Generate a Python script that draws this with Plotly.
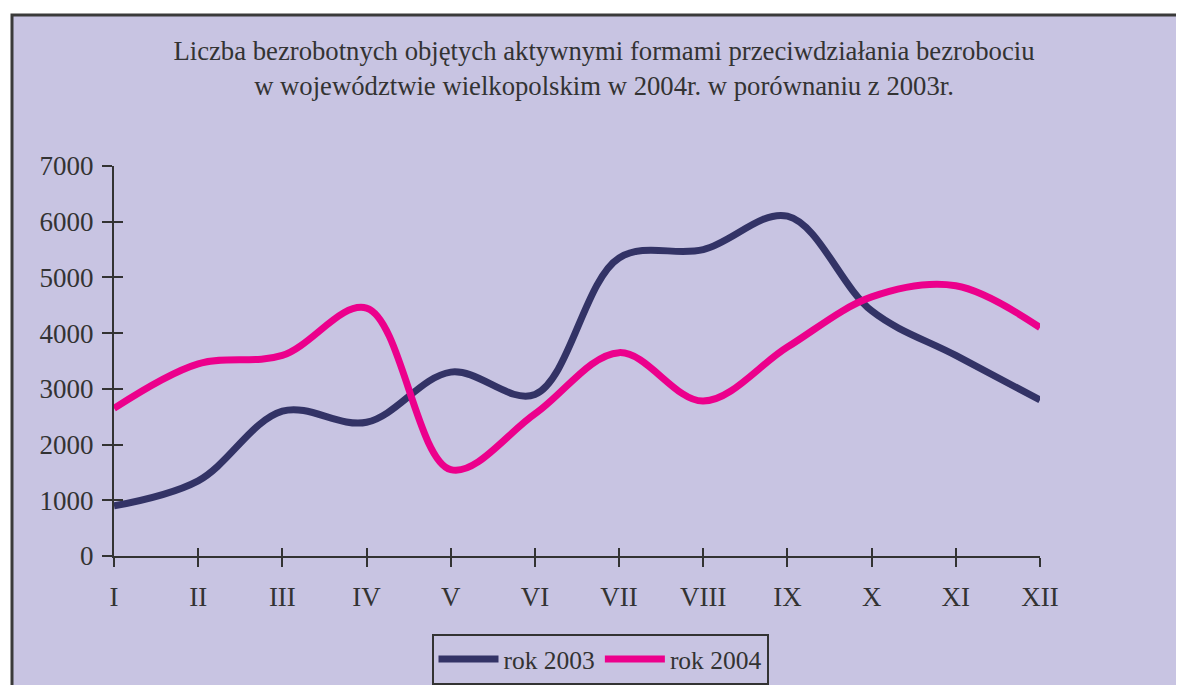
import plotly.graph_objects as go

miesiace = ["I", "II", "III", "IV", "V", "VI", "VII", "VIII", "IX", "X", "XI", "XII"]
rok_2003 = [900, 1350, 2600, 2400, 3300, 2900, 5350, 5500, 6100, 4400, 3600, 2800]
rok_2004 = [2650, 3450, 3600, 4450, 1550, 2550, 3650, 2780, 3750, 4650, 4850, 4100]
y_ticks = [0, 1000, 2000, 3000, 4000, 5000, 6000, 7000]

TLO = "#C8C4E2"
TEKST = "#333333"
FONT = "Liberation Serif, Times New Roman, serif"

# strona ma margines 8px, wiec wszystko przesuwamy o 8
OFF = 8
W, H = 1184, 685
L, T = 114 - OFF, 166 - OFF
R = W - (1040 - OFF)
B = H - (556 - OFF)
pw, ph = W - L - R, H - T - B


def px_x(x):
    return (x - OFF - L) / pw


def px_y(y):
    return (T + ph - (y - OFF)) / ph


fig = go.Figure()
fig.add_trace(go.Scatter(x=miesiace, y=rok_2003, name="rok 2003", mode="lines",
                         line=dict(color="#333366", width=7, shape="spline", smoothing=1)))
fig.add_trace(go.Scatter(x=miesiace, y=rok_2004, name="rok 2004", mode="lines",
                         line=dict(color="#EC008C", width=7, shape="spline", smoothing=1)))
# pusta seria dla osi pomocniczych (kreski wewnetrzne)
fig.add_trace(go.Scatter(x=[], y=[], xaxis="x2", yaxis="y2", showlegend=False, hoverinfo="skip"))

# ramka i tlo wykresu
fig.add_shape(type="rect", xref="paper", yref="paper", layer="below",
              x0=px_x(12), x1=px_x(W + 30), y0=px_y(H + 30), y1=px_y(15),
              fillcolor=TLO, line=dict(color="#3a3a3a", width=3))

fig.update_layout(
    width=W, height=H,
    margin=dict(l=L, r=R, t=T, b=B, autoexpand=False),
    paper_bgcolor="white",
    plot_bgcolor="rgba(0,0,0,0)",
    font=dict(family=FONT, size=27, color=TEKST),
    title=dict(text="Liczba bezrobotnych objętych aktywnymi formami przeciwdziałania bezrobociu<br>"
                    "w województwie wielkopolskim w 2004r. w porównaniu z 2003r.",
               x=(604 - OFF) / W, xanchor="center", y=1 - (60 - OFF) / H, yanchor="top",
               font=dict(family=FONT, size=26.7, color=TEKST)),
    showlegend=True,
    legend=dict(orientation="h", xref="container", x=(600 - OFF) / W, xanchor="center",
                yref="container", y=(H - (685 - OFF)) / H, yanchor="bottom",
                bgcolor=TLO, bordercolor="#333333", borderwidth=2,
                font=dict(family=FONT, size=25.5, color=TEKST),
                itemwidth=60, tracegroupgap=0),
    xaxis=dict(type="category", categoryorder="array", categoryarray=miesiace,
               range=[0, 11], showgrid=False, zeroline=False, automargin=False,
               showline=True, linecolor=TEKST, linewidth=2,
               ticks="outside", ticklen=9, tickwidth=2, tickcolor=TEKST,
               ticklabelstandoff=7),
    yaxis=dict(range=[0, 7000], tickvals=y_ticks, showgrid=False, zeroline=False,
               automargin=False, showline=True, linecolor=TEKST, linewidth=2,
               ticks="outside", ticklen=10, tickwidth=2, tickcolor=TEKST,
               ticklabelstandoff=3),
    xaxis2=dict(overlaying="x", range=[0, 11], dtick=1, tick0=0, showgrid=False,
                zeroline=False, showline=False, showticklabels=False,
                ticks="inside", ticklen=8, tickwidth=2, tickcolor=TEKST),
    yaxis2=dict(overlaying="y", range=[0, 7000], dtick=1000, tick0=0, showgrid=False,
                zeroline=False, showline=False, showticklabels=False,
                ticks="inside", ticklen=9, tickwidth=2, tickcolor=TEKST),
)

fig.write_html("out.html")
